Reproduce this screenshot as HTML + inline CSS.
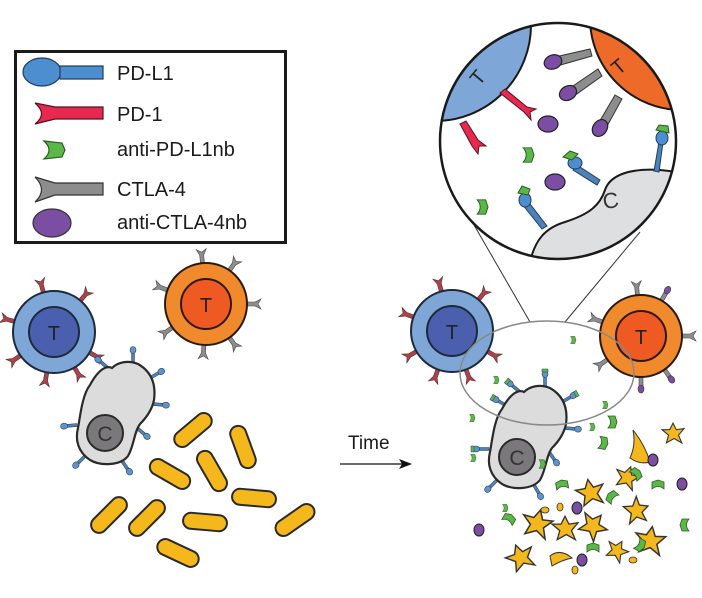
<!DOCTYPE html>
<html><head><meta charset="utf-8"><style>
html,body{margin:0;padding:0;background:#fff;}
svg{display:block;}
text{font-family:"Liberation Sans",sans-serif;}
</style></head><body>
<svg width="702" height="598" viewBox="0 0 702 598" xmlns="http://www.w3.org/2000/svg">
<defs>
 <g id="pd1"><path d="M-2,0 L-2,-9 L-5,-15 L0,-12 L5,-15 L2,-9 L2,0Z" fill="#a9444b" stroke="#5a2a2d" stroke-width="0.6"/></g>
 <g id="ctla"><path d="M-2,0 L-2,-9 L-5,-15 L0,-12 L5,-15 L2,-9 L2,0Z" fill="#8d8d8d" stroke="#444" stroke-width="0.6"/></g>
 <g id="ctlap"><path d="M-2,0 L-2,-10 L2,-10 L2,0Z" fill="#8d8d8d" stroke="#444" stroke-width="0.6"/><ellipse cx="0" cy="-13" rx="3" ry="4" fill="#7b4ea3" stroke="#333" stroke-width="0.6"/></g>
 <g id="pdl1"><rect x="-1.5" y="-11" width="3" height="11" fill="#4d82b8" stroke="#2c3e50" stroke-width="0.5"/><ellipse cx="0" cy="-13" rx="3" ry="3.5" fill="#5b95cc" stroke="#2c3e50" stroke-width="0.6"/></g>
 <g id="pdl1g"><rect x="-1.5" y="-11" width="3" height="11" fill="#4d82b8" stroke="#2c3e50" stroke-width="0.5"/><ellipse cx="0" cy="-13" rx="3" ry="3.5" fill="#5b95cc" stroke="#2c3e50" stroke-width="0.6"/><path d="M-3,-15 L-3,-18 L3,-18 L3,-15Z" fill="#5bb848" stroke="#2c3e50" stroke-width="0.5"/></g>
 <path id="rod" d="M-14,-8 L14,-8 A8,8 0 0 1 14,8 L-14,8 A8,8 0 0 1 -14,-8Z" fill="#f4b81c" stroke="#2a2a2a" stroke-width="2"/>
 <path id="star" d="M0,-9 L3,-3 L10,-4 L5,2 L8,9 L1,5 L-6,9 L-4,2 L-10,-3 L-3,-3Z" fill="#f4b81c" stroke="#333" stroke-width="1"/>
 <path id="cres" d="M-4,-6 L3,-6 L5,0 L3,6 L-4,6 Q1,0 -4,-6Z" fill="#5bb848" stroke="#2d5a24" stroke-width="0.8"/>
 <path id="cell" d="M90,385 C98,370 106,365 112,368 C118,362 128,360 138,364 C152,372 156,385 154,400 C152,410 146,418 140,424 C134,432 134,446 128,456 C120,466 100,466 90,460 C78,452 75,440 78,428 C80,418 82,395 90,385Z" fill="#dcdcdc" stroke="#2a2a2a" stroke-width="2.2"/>
 <clipPath id="mag"><circle cx="558" cy="141" r="118"/></clipPath>
</defs>

<rect x="15.5" y="51.5" width="270" height="191" fill="#fff" stroke="#1a1a1a" stroke-width="3"/>
<ellipse cx="42" cy="72" rx="19" ry="14" fill="#4d8ed0" stroke="#1f3d5e" stroke-width="1.2"/>
<rect x="60" y="66" width="43" height="13" fill="#4d8ed0" stroke="#1f3d5e" stroke-width="1.2"/>
<path d="M35,103 L55,107 L103,107 L103,119 L55,119 L35,124 Q48,114 35,103Z" fill="#e62a4f" stroke="#5a1020" stroke-width="1.2"/>
<path d="M44,141 L62,143 L65,150 L62,157 L44,159 Q54,150 44,141Z" fill="#5bb848" stroke="#2d5a24" stroke-width="1.2"/>
<path d="M35,177 L55,183 L103,183 L103,195 L55,195 L35,202 Q48,190 35,177Z" fill="#8d8d8d" stroke="#333" stroke-width="1.2"/>
<ellipse cx="52" cy="223" rx="19" ry="14" fill="#7b4ea3" stroke="#333" stroke-width="1.2"/>
<g font-size="20" fill="#1a1a1a">
<text x="117" y="80">PD-L1</text>
<text x="117" y="121">PD-1</text>
<text x="117" y="156">anti-PD-L1nb</text>
<text x="117" y="196">CTLA-4</text>
<text x="117" y="229">anti-CTLA-4nb</text>
</g>

<g transform="translate(54,332)">
 <use href="#pd1" transform="rotate(-15) translate(0,-40)"/><use href="#pd1" transform="rotate(40) translate(0,-40)"/>
 <use href="#pd1" transform="rotate(120) translate(0,-40)"/><use href="#pd1" transform="rotate(150) translate(0,-40)"/>
 <use href="#pd1" transform="rotate(190) translate(0,-40)"/><use href="#pd1" transform="rotate(235) translate(0,-40)"/>
 <use href="#pd1" transform="rotate(285) translate(0,-40)"/>
 <circle r="41" fill="#7ea7d8" stroke="#1e2a3a" stroke-width="2"/>
 <circle r="25" fill="#4a5fae" stroke="#1e2a3a" stroke-width="2"/>
 <text x="0" y="8" text-anchor="middle" font-size="20" fill="#222">T</text>
</g>
<g transform="translate(206,304)">
 <use href="#ctla" transform="rotate(-5) translate(0,-40)"/><use href="#ctla" transform="rotate(35) translate(0,-40)"/>
 <use href="#ctla" transform="rotate(90) translate(0,-40)"/><use href="#ctla" transform="rotate(145) translate(0,-40)"/>
 <use href="#ctla" transform="rotate(183) translate(0,-40)"/><use href="#ctla" transform="rotate(235) translate(0,-40)"/>
 <use href="#ctla" transform="rotate(290) translate(0,-40)"/>
 <circle r="41" fill="#f08a2c" stroke="#2a1a10" stroke-width="2"/>
 <circle r="25" fill="#ee5a22" stroke="#2a1a10" stroke-width="2"/>
 <text x="0" y="8" text-anchor="middle" font-size="20" fill="#222">T</text>
</g>
<g>
 <use href="#pdl1" transform="translate(133,363) rotate(0)"/>
 <use href="#pdl1" transform="translate(150,378) rotate(60)"/>
 <use href="#pdl1" transform="translate(153,404) rotate(95)"/>
 <use href="#pdl1" transform="translate(137,428) rotate(130)"/>
 <use href="#pdl1" transform="translate(122,461) rotate(145)"/>
 <use href="#pdl1" transform="translate(85,456) rotate(225)"/>
 <use href="#pdl1" transform="translate(77,425) rotate(265)"/>
 <use href="#pdl1" transform="translate(108,368) rotate(-50)"/>
 <use href="#cell"/>
 <circle cx="105" cy="433" r="18" fill="#7a787a" stroke="#2a2a2a" stroke-width="2"/>
 <text x="105" y="441" text-anchor="middle" font-size="21" fill="#333">C</text>
</g>
<use href="#rod" transform="translate(193,430) rotate(-40)"/>
<use href="#rod" transform="translate(243,447) rotate(70)"/>
<use href="#rod" transform="translate(170,474) rotate(30)"/>
<use href="#rod" transform="translate(212,471) rotate(60)"/>
<use href="#rod" transform="translate(254,498) rotate(5)"/>
<use href="#rod" transform="translate(109,515) rotate(-45)"/>
<use href="#rod" transform="translate(147,518) rotate(-45)"/>
<use href="#rod" transform="translate(205,522) rotate(5)"/>
<use href="#rod" transform="translate(295,520) rotate(-35)"/>
<use href="#rod" transform="translate(178,553) rotate(25)"/>

<text x="348" y="449" font-size="19" fill="#1a1a1a">Time</text>
<line x1="340" y1="464" x2="405" y2="464" stroke="#111" stroke-width="1.3"/>
<path d="M412,464 L399,459 L402,464 L399,469Z" fill="#111"/>

<line x1="470" y1="218" x2="530" y2="322" stroke="#333" stroke-width="1"/>
<line x1="640" y1="232" x2="565" y2="322" stroke="#333" stroke-width="1"/>

<circle cx="558" cy="141" r="118" fill="#fff"/>
<g clip-path="url(#mag)">
 <circle cx="435" cy="25" r="96" fill="#7ea7d8" stroke="#1a1a1a" stroke-width="2"/>
 <circle cx="682" cy="18" r="92" fill="#ee6a28" stroke="#1a1a1a" stroke-width="2"/>
 <path d="M530,262 C535,240 545,228 565,222 C590,214 600,205 605,190 C610,175 630,168 660,170 C685,172 700,178 700,178 L700,270 Z" fill="#dedfe1" stroke="#1a1a1a" stroke-width="2"/>
</g>
<text transform="translate(483,82) rotate(-50)" text-anchor="middle" font-size="20" fill="#222">T</text>
<text transform="translate(623,72) rotate(-40)" text-anchor="middle" font-size="20" fill="#222">T</text>
<text transform="translate(612,208) rotate(-10)" text-anchor="middle" font-size="22" fill="#333">C</text>
<path d="M500,93 L505,89 L527,107 L536,109 L530,112 L531,120 L524,112 Z" fill="#e62a4f" stroke="#5a1020" stroke-width="1"/>
<path d="M460,124 L466,121 L478,140 L486,146 L479,146 L478,154 L472,146 Z" fill="#e62a4f" stroke="#5a1020" stroke-width="1"/>
<path d="M555,57 L590,49 L592,56 L557,66Z" fill="#8d8d8d" stroke="#333" stroke-width="1"/>
<ellipse cx="553" cy="62" rx="9" ry="7" transform="rotate(-20 553 62)" fill="#7b4ea3" stroke="#222" stroke-width="1.2"/>
<path d="M570,88 L598,69 L602,76 L574,96Z" fill="#8d8d8d" stroke="#333" stroke-width="1"/>
<ellipse cx="568" cy="93" rx="9" ry="7" transform="rotate(-30 568 93)" fill="#7b4ea3" stroke="#222" stroke-width="1.2"/>
<path d="M598,124 L615,95 L622,99 L606,128Z" fill="#8d8d8d" stroke="#333" stroke-width="1"/>
<ellipse cx="600" cy="128" rx="9" ry="7" transform="rotate(-55 600 128)" fill="#7b4ea3" stroke="#222" stroke-width="1.2"/>
<ellipse cx="548" cy="124" rx="10" ry="8" fill="#7b4ea3" stroke="#222" stroke-width="1.2"/>
<ellipse cx="555" cy="182" rx="10" ry="8" fill="#7b4ea3" stroke="#222" stroke-width="1.2"/>
<use href="#cres" transform="translate(528,155) scale(1.2)"/>
<use href="#cres" transform="translate(482,207) scale(1.2)"/>
<path d="M577,165 L600,180 L597,185 L573,170Z" fill="#4d82b8" stroke="#1f3d5e" stroke-width="1"/>
<ellipse cx="575" cy="163" rx="7" ry="6" fill="#4d8ed0" stroke="#1f3d5e" stroke-width="1"/>
<path d="M563,157 L570,151 L578,154 L572,160Z" fill="#5bb848" stroke="#2d5a24" stroke-width="1"/>
<path d="M527,200 L547,226 L542,229 L522,204Z" fill="#4d82b8" stroke="#1f3d5e" stroke-width="1"/>
<ellipse cx="525" cy="200" rx="6" ry="7" fill="#4d8ed0" stroke="#1f3d5e" stroke-width="1"/>
<path d="M518,193 L522,186 L530,189 L528,195Z" fill="#5bb848" stroke="#2d5a24" stroke-width="1"/>
<path d="M659,142 L663,142 L659,172 L654,171Z" fill="#4d82b8" stroke="#1f3d5e" stroke-width="1"/>
<ellipse cx="662" cy="138" rx="6" ry="7" fill="#4d8ed0" stroke="#1f3d5e" stroke-width="1"/>
<path d="M656,130 L659,125 L668,126 L669,133Z" fill="#5bb848" stroke="#2d5a24" stroke-width="1"/>
<circle cx="558" cy="141" r="118" fill="none" stroke="#1a1a1a" stroke-width="2.5"/>

<g transform="translate(452,331)">
 <use href="#pd1" transform="rotate(-15) translate(0,-40)"/><use href="#pd1" transform="rotate(40) translate(0,-40)"/>
 <use href="#pd1" transform="rotate(120) translate(0,-40)"/><use href="#pd1" transform="rotate(160) translate(0,-40)"/>
 <use href="#pd1" transform="rotate(200) translate(0,-40)"/><use href="#pd1" transform="rotate(240) translate(0,-40)"/>
 <use href="#pd1" transform="rotate(290) translate(0,-40)"/>
 <circle r="41" fill="#7ea7d8" stroke="#1e2a3a" stroke-width="2"/>
 <circle r="25" fill="#4a5fae" stroke="#1e2a3a" stroke-width="2"/>
 <text x="0" y="8" text-anchor="middle" font-size="20" fill="#222">T</text>
</g>
<g transform="translate(641,336)">
 <use href="#ctla" transform="rotate(-5) translate(0,-40)"/><use href="#ctlap" transform="rotate(30) translate(0,-40)"/>
 <use href="#ctla" transform="rotate(90) translate(0,-40)"/><use href="#ctlap" transform="rotate(145) translate(0,-40)"/>
 <use href="#ctlap" transform="rotate(180) translate(0,-40)"/><use href="#ctla" transform="rotate(235) translate(0,-40)"/>
 <use href="#ctla" transform="rotate(290) translate(0,-40)"/>
 <circle r="41" fill="#f08a2c" stroke="#2a1a10" stroke-width="2"/>
 <circle r="25" fill="#ee5a22" stroke="#2a1a10" stroke-width="2"/>
 <text x="0" y="8" text-anchor="middle" font-size="20" fill="#222">T</text>
</g>
<g transform="translate(412,24)">
 <use href="#pdl1g" transform="translate(133,363) rotate(0)"/>
 <use href="#pdl1g" transform="translate(150,378) rotate(60)"/>
 <use href="#pdl1" transform="translate(153,404) rotate(95)"/>
 <use href="#pdl1" transform="translate(137,428) rotate(145)"/>
 <use href="#pdl1" transform="translate(122,461) rotate(150)"/>
 <use href="#pdl1" transform="translate(85,456) rotate(225)"/>
 <use href="#pdl1g" transform="translate(77,425) rotate(270)"/>
 <use href="#pdl1g" transform="translate(108,368) rotate(-50)"/>
 <use href="#pdl1g" transform="translate(95,382) rotate(-60)"/>
 <use href="#cell"/>
 <circle cx="105" cy="433" r="18" fill="#7a787a" stroke="#2a2a2a" stroke-width="2"/>
 <text x="105" y="441" text-anchor="middle" font-size="21" fill="#333">C</text>
</g>
<ellipse cx="547" cy="373" rx="87" ry="52" fill="none" stroke="#888" stroke-width="1.5"/>

<g>
<use href="#star" transform="translate(673,433) scale(1.1)"/>
<use href="#star" transform="translate(627,477) rotate(20) scale(1.2)"/>
<use href="#star" transform="translate(590,492) rotate(-10) scale(1.4)"/>
<use href="#star" transform="translate(537,523) rotate(15) scale(1.5)"/>
<use href="#star" transform="translate(565,528) scale(1.3)"/>
<use href="#star" transform="translate(593,525) rotate(40) scale(1.4)"/>
<use href="#star" transform="translate(637,510) rotate(70) scale(1.3)"/>
<use href="#star" transform="translate(650,540) rotate(10) scale(1.5)"/>
<use href="#star" transform="translate(520,557) rotate(-20) scale(1.4)"/>
<use href="#star" transform="translate(617,550) rotate(30) scale(1.1)"/>
<path d="M633,430 Q645,445 650,462 Q640,465 630,458 Q636,445 633,430Z" fill="#f4b81c" stroke="#333" stroke-width="1"/>
<path d="M550,556 Q560,548 572,558 Q562,560 552,566Z" fill="#f4b81c" stroke="#333" stroke-width="1"/>
<ellipse cx="545" cy="510" rx="4" ry="3" fill="#f4b81c" stroke="#333" stroke-width="0.8"/>
<ellipse cx="560" cy="507" rx="3" ry="4" fill="#f4b81c" stroke="#333" stroke-width="0.8"/>
<ellipse cx="633" cy="560" rx="4" ry="3" fill="#f4b81c" stroke="#333" stroke-width="0.8"/>
<ellipse cx="575" cy="570" rx="3" ry="4" fill="#f4b81c" stroke="#333" stroke-width="0.8"/>
</g>
<g>
<ellipse cx="653" cy="460" rx="5" ry="6" fill="#7b4ea3" stroke="#222"/>
<ellipse cx="682" cy="484" rx="5" ry="6" fill="#7b4ea3" stroke="#222"/>
<ellipse cx="577" cy="508" rx="5" ry="6" fill="#7b4ea3" stroke="#222"/>
<ellipse cx="479" cy="530" rx="5" ry="6" fill="#7b4ea3" stroke="#222"/>
<ellipse cx="582" cy="560" rx="5" ry="6" fill="#7b4ea3" stroke="#222"/>
</g>
<g>
<use href="#cres" transform="translate(612,422)"/>
<use href="#cres" transform="translate(603,443) rotate(10)"/>
<use href="#cres" transform="translate(636,474) rotate(-40)"/>
<use href="#cres" transform="translate(658,485) rotate(-90)"/>
<use href="#cres" transform="translate(562,485) rotate(-100)"/>
<use href="#cres" transform="translate(612,497) rotate(-140)"/>
<use href="#cres" transform="translate(509,519) rotate(-60)"/>
<use href="#cres" transform="translate(685,525) rotate(180)"/>
<use href="#cres" transform="translate(593,548) rotate(-90)"/>
<use href="#cres" transform="translate(640,545) rotate(30)"/>
<use href="#cres" transform="translate(542,464) scale(0.7)"/>
<use href="#cres" transform="translate(473,458) scale(0.6)"/>
<use href="#cres" transform="translate(472,418) scale(0.6)"/>
<use href="#cres" transform="translate(496,380) scale(0.6)"/>
<use href="#cres" transform="translate(573,340) scale(0.6)"/>
<use href="#cres" transform="translate(605,405) scale(0.6)"/>
<use href="#cres" transform="translate(592,427) scale(0.6)"/>
<use href="#cres" transform="translate(505,508) scale(0.6)"/>
</g>
</svg>
</body></html>
